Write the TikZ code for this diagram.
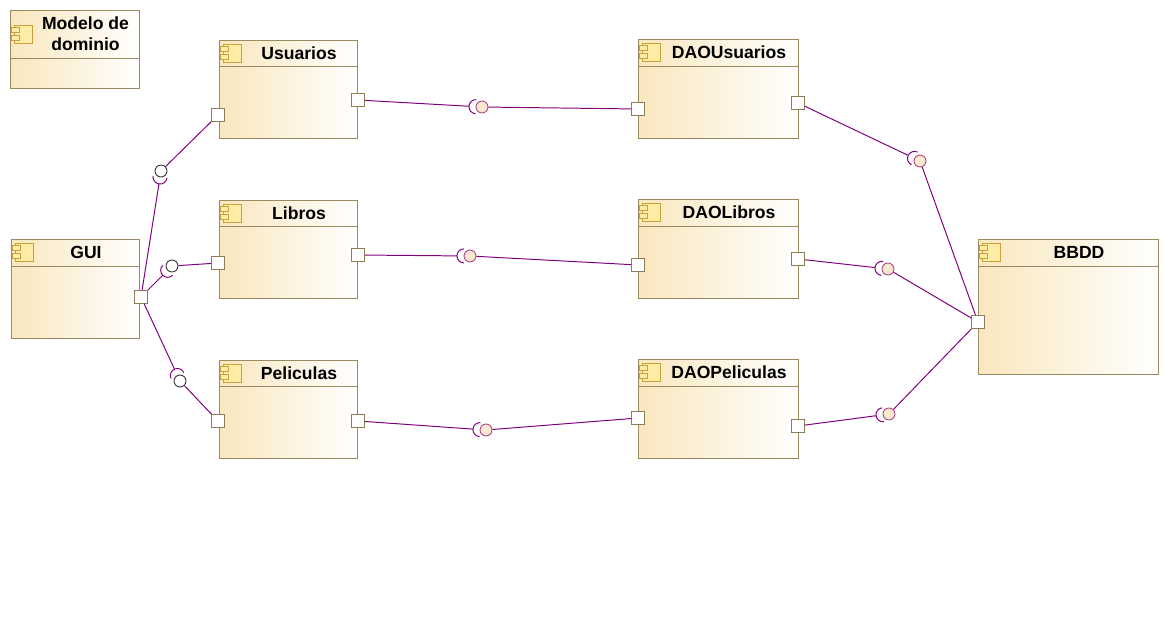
\documentclass[tikz,border=0pt]{standalone}
\usepackage{fontspec}
\setmainfont{Liberation Sans}
\usetikzlibrary{calc}
\definecolor{compline}{RGB}{154,138,98}
\definecolor{compfill}{RGB}{249,231,190}
\definecolor{iconline}{RGB}{200,160,60}
\definecolor{iconfill}{RGB}{252,236,165}
\definecolor{wirec}{RGB}{128,0,128}
\definecolor{ballline}{RGB}{176,80,144}
\definecolor{ballfill}{RGB}{251,233,207}
\definecolor{portline}{RGB}{140,124,88}

\begin{document}
\begin{tikzpicture}[x=0.025cm,y=-0.025cm,
  comp/.style={draw=compline,left color=compfill,right color=white,anchor=north west,inner sep=0,line width=0.7pt},
  port/.style={draw=portline,fill=white,minimum size=9.2pt,inner sep=0,line width=0.6pt},
  wire/.style={draw=wirec,line width=0.7pt},
  ball/.style={circle,draw=ballline,fill=ballfill,minimum size=8.5pt,inner sep=0,line width=0.7pt},
  wball/.style={circle,draw=black!75,fill=white,minimum size=8.5pt,inner sep=0,line width=0.7pt},
  title/.style={font=\bfseries\fontsize{12.5}{15}\selectfont,align=center}]
\useasboundingbox (0,0) rectangle (1168,630);
% components
\foreach \n/\x/\y/\w/\h/\hh/\t in {mod/10/10/129/78/48/{Modelo de\\dominio},
    gui/11/239/128/99/27/GUI, usu/219/40/138/98/26/Usuarios,
    lib/219/200/138/98/26/Libros, pel/219/360/138/98/26/Peliculas,
    dusu/638/39/160/99/27/DAOUsuarios, dlib/638/199/160/99/27/DAOLibros,
    dpel/638/359/160/99/27/DAOPeliculas, bbdd/978/239/180/135/27/BBDD}{
  \node[comp,minimum width=\w*0.025cm,minimum height=\h*0.025cm] (\n) at (\x,\y) {};
  \draw[compline,line width=0.7pt] (\x,\y+\hh) -- (\x+\w,\y+\hh);
  \filldraw[draw=iconline,fill=iconfill,line width=0.6pt] (\x+4,\y+\hh/2-9) rectangle (\x+22,\y+\hh/2+9);
  \filldraw[draw=iconline,fill=iconfill,line width=0.6pt] (\x+1,\y+\hh/2-7) rectangle (\x+9,\y+\hh/2-2);
  \filldraw[draw=iconline,fill=iconfill,line width=0.6pt] (\x+1,\y+\hh/2+1) rectangle (\x+9,\y+\hh/2+6);
  \node[title] at (\x+11+\w/2,\y+\hh/2) {\t};
}
% ports
\node[port] (gp) at (141,297) {};
\node[port] (up1) at (218,115) {};
\node[port] (up2) at (358,100) {};
\node[port] (lp1) at (218,263) {};
\node[port] (lp2) at (358,255) {};
\node[port] (pp1) at (218,421) {};
\node[port] (pp2) at (358,421) {};
\node[port] (dup1) at (638,109) {};
\node[port] (dup2) at (798,103) {};
\node[port] (dlp1) at (638,265) {};
\node[port] (dlp2) at (798,259) {};
\node[port] (dpp1) at (638,418) {};
\node[port] (dpp2) at (798,426) {};
\node[port] (bp) at (978,322) {};
% provided interfaces
\node[ball] (b1) at (482,107) {};
\node[ball] (b2) at (470,256) {};
\node[ball] (b3) at (486,430) {};
\node[ball] (b4) at (920,161) {};
\node[ball] (b5) at (888,269) {};
\node[ball] (b6) at (889,414) {};
\node[wball] (b7) at (161,171) {};
\node[wball] (b8) at (172,266) {};
\node[wball] (b9) at (180,381) {};
% assembly connectors
\foreach \bl/\rq/\pv in {b1/up2/dup1, b2/lp2/dlp1, b3/pp2/dpp1,
    b4/dup2/bp, b5/dlp2/bp, b6/dpp2/bp, b7/gp/up1, b8/gp/lp1, b9/gp/pp1}{
  \draw[wire] let \p1=($(\rq)-(\bl)$), \n1={atan2(\y1,\x1)} in
    (\rq) -- ($(\bl)+(\n1:9.3pt)$)
    ($(\bl)+(\n1:4.3pt)+(\n1-90:5pt)$) arc[start angle=\n1-90,end angle=\n1+90,radius=5pt];
  \draw[wire] (\bl) -- (\pv);
}
\end{tikzpicture}
\end{document}
